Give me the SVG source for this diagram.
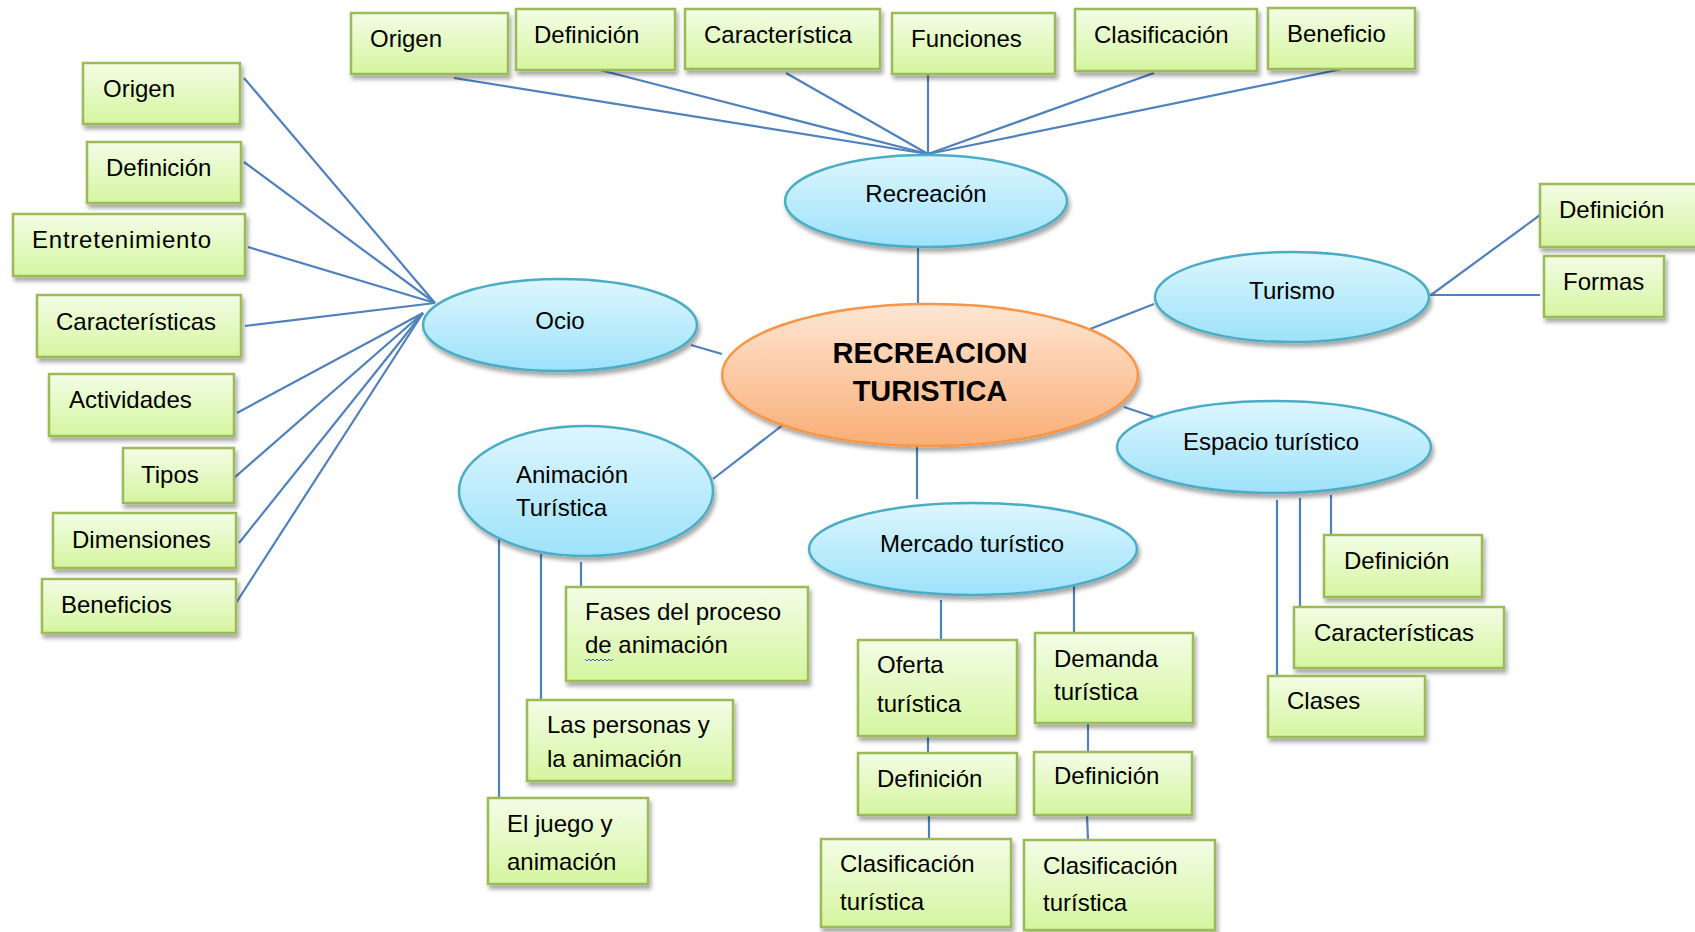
<svg xmlns="http://www.w3.org/2000/svg" width="1695" height="932" viewBox="0 0 1695 932">
<defs>
<linearGradient id="gBox" x1="0" y1="0" x2="0" y2="1"><stop offset="0" stop-color="#f3fde6"/><stop offset="1" stop-color="#d5f59f"/></linearGradient>
<linearGradient id="gBlue" x1="0" y1="0" x2="0" y2="1"><stop offset="0" stop-color="#ddf6fe"/><stop offset="1" stop-color="#9de2fa"/></linearGradient>
<linearGradient id="gOrange" x1="0" y1="0" x2="0" y2="1"><stop offset="0" stop-color="#fee6d3"/><stop offset="1" stop-color="#f9ae76"/></linearGradient>
<filter id="sh" x="-10%" y="-10%" width="125%" height="135%"><feDropShadow dx="2" dy="4" stdDeviation="2.2" flood-color="#000" flood-opacity="0.35"/></filter>
</defs>
<style>
.box{fill:url(#gBox);stroke:#9bbb59;stroke-width:2.5;filter:url(#sh)}
.ell{fill:url(#gBlue);stroke:#4bacc6;stroke-width:2.5;filter:url(#sh)}
.ctr{fill:url(#gOrange);stroke:#f79646;stroke-width:2.5;filter:url(#sh)}
text{font-family:"Liberation Sans",Arial,sans-serif;font-size:24px;fill:#000}
.c{text-anchor:middle}
.b{font-weight:bold;font-size:29px}
#connectors line{stroke:#4f81bd;stroke-width:2.2}
</style>
<rect width="1695" height="932" fill="#fff"/>
<g id="connectors">
<line x1="454" y1="78" x2="928" y2="154"/>
<line x1="596" y1="69" x2="928" y2="154"/>
<line x1="786" y1="73" x2="928" y2="154"/>
<line x1="928" y1="74" x2="928" y2="154"/>
<line x1="1154" y1="73" x2="928" y2="154"/>
<line x1="1342" y1="69" x2="928" y2="154"/>
<line x1="918" y1="248" x2="918" y2="304"/>
<line x1="244" y1="78" x2="435" y2="303"/>
<line x1="244" y1="162" x2="435" y2="303"/>
<line x1="248" y1="247" x2="435" y2="303"/>
<line x1="245" y1="326" x2="435" y2="303"/>
<line x1="237" y1="413" x2="423" y2="313"/>
<line x1="234" y1="478" x2="423" y2="313"/>
<line x1="239" y1="543" x2="423" y2="313"/>
<line x1="236" y1="603" x2="423" y2="313"/>
<line x1="691" y1="345" x2="722" y2="354"/>
<line x1="1090" y1="329" x2="1154" y2="304"/>
<line x1="1431" y1="295" x2="1540" y2="215"/>
<line x1="1430" y1="295" x2="1540" y2="295"/>
<line x1="1124" y1="407" x2="1154" y2="417"/>
<line x1="1277" y1="500" x2="1277" y2="676"/>
<line x1="1300" y1="498" x2="1300" y2="607"/>
<line x1="1331" y1="495" x2="1331" y2="535"/>
<line x1="917" y1="443" x2="917" y2="499"/>
<line x1="941" y1="600" x2="941" y2="640"/>
<line x1="1074" y1="585" x2="1074" y2="633"/>
<line x1="928" y1="736" x2="928" y2="753"/>
<line x1="929" y1="815" x2="929" y2="839"/>
<line x1="1088" y1="723" x2="1088" y2="752"/>
<line x1="1087" y1="815" x2="1088" y2="840"/>
<line x1="713" y1="479" x2="784" y2="424"/>
<line x1="499" y1="536" x2="499" y2="798"/>
<line x1="541" y1="554" x2="541" y2="700"/>
<line x1="581" y1="562" x2="581" y2="587"/>
</g>
<g id="n-top-origen"><rect class="box" x="351" y="13" width="157" height="61"/><text x="370" y="47">Origen</text></g>
<g id="n-top-definicion"><rect class="box" x="516" y="9" width="159" height="61"/><text x="534" y="43">Definición</text></g>
<g id="n-top-caracteristica"><rect class="box" x="685" y="9" width="195" height="60"/><text x="704" y="43">Característica</text></g>
<g id="n-top-funciones"><rect class="box" x="892" y="13" width="163" height="61"/><text x="911" y="47">Funciones</text></g>
<g id="n-top-clasificacion"><rect class="box" x="1075" y="9" width="182" height="62"/><text x="1094" y="43">Clasificación</text></g>
<g id="n-top-beneficio"><rect class="box" x="1268" y="8" width="147" height="61"/><text x="1287" y="42">Beneficio</text></g>
<g id="n-recreacion"><ellipse class="ell" cx="926" cy="201" rx="141" ry="46"/><text class="c" x="926" y="202">Recreación</text></g>
<g id="n-center"><ellipse class="ctr" cx="930" cy="375" rx="208" ry="71"/><text class="c b" x="930" y="363">RECREACION</text><text class="c b" x="930" y="401">TURISTICA</text></g>
<g id="n-l-origen"><rect class="box" x="83" y="63" width="157" height="61"/><text x="103" y="97">Origen</text></g>
<g id="n-l-definicion"><rect class="box" x="87" y="142" width="154" height="61"/><text x="106" y="176">Definición</text></g>
<g id="n-l-entretenimiento"><rect class="box" x="13" y="214" width="232" height="62"/><text x="32" y="248" textLength="179" lengthAdjust="spacing">Entretenimiento</text></g>
<g id="n-l-caracteristicas"><rect class="box" x="37" y="295" width="204" height="62"/><text x="56" y="330">Características</text></g>
<g id="n-l-actividades"><rect class="box" x="49" y="374" width="185" height="62"/><text x="69" y="408">Actividades</text></g>
<g id="n-l-tipos"><rect class="box" x="123" y="448" width="111" height="55"/><text x="141" y="483">Tipos</text></g>
<g id="n-l-dimensiones"><rect class="box" x="53" y="513" width="183" height="55"/><text x="72" y="548">Dimensiones</text></g>
<g id="n-l-beneficios"><rect class="box" x="42" y="579" width="194" height="54"/><text x="61" y="613">Beneficios</text></g>
<g id="n-ocio"><ellipse class="ell" cx="560" cy="325" rx="137" ry="46"/><text class="c" x="560" y="329">Ocio</text></g>
<g id="n-turismo"><ellipse class="ell" cx="1292" cy="297" rx="137" ry="45"/><text class="c" x="1292" y="299">Turismo</text></g>
<g id="n-t-definicion"><rect class="box" x="1540" y="184" width="165" height="63"/><text x="1559" y="218">Definición</text></g>
<g id="n-t-formas"><rect class="box" x="1544" y="256" width="120" height="61"/><text x="1563" y="290">Formas</text></g>
<g id="n-espacio"><ellipse class="ell" cx="1274" cy="447" rx="157" ry="46"/><text class="c" x="1271" y="450">Espacio turístico</text></g>
<g id="n-e-definicion"><rect class="box" x="1324" y="535" width="158" height="62"/><text x="1344" y="569">Definición</text></g>
<g id="n-e-caracteristicas"><rect class="box" x="1294" y="607" width="210" height="61"/><text x="1314" y="641">Características</text></g>
<g id="n-e-clases"><rect class="box" x="1268" y="676" width="157" height="61"/><text x="1287" y="709">Clases</text></g>
<g id="n-mercado"><ellipse class="ell" cx="973" cy="549" rx="164" ry="46"/><text class="c" x="972" y="552">Mercado turístico</text></g>
<g id="n-oferta"><rect class="box" x="858" y="640" width="159" height="96"/><text x="877" y="673">Oferta</text><text x="877" y="712">turística</text></g>
<g id="n-demanda"><rect class="box" x="1035" y="633" width="158" height="90"/><text x="1054" y="667">Demanda</text><text x="1054" y="700">turística</text></g>
<g id="n-o-definicion"><rect class="box" x="858" y="753" width="159" height="62"/><text x="877" y="787">Definición</text></g>
<g id="n-d-definicion"><rect class="box" x="1034" y="752" width="158" height="63"/><text x="1054" y="784">Definición</text></g>
<g id="n-o-clasificacion"><rect class="box" x="821" y="839" width="190" height="88"/><text x="840" y="872">Clasificación</text><text x="840" y="910">turística</text></g>
<g id="n-d-clasificacion"><rect class="box" x="1024" y="840" width="191" height="90"/><text x="1043" y="874">Clasificación</text><text x="1043" y="911">turística</text></g>
<g id="n-animacion"><ellipse class="ell" cx="586" cy="491" rx="127" ry="65"/><text x="516" y="483">Animación</text><text x="516" y="516">Turística</text></g>
<g id="n-fases"><rect class="box" x="566" y="587" width="242" height="94"/><text x="585" y="620">Fases del proceso</text><text x="585" y="653">de animación</text><path d="M585 659 l2 2 l2 -2 l2 2 l2 -2 l2 2 l2 -2 l2 2 l2 -2 l2 2 l2 -2 l2 2 l2 -2 l2 2 l2 -2" fill="none" stroke="#4060d0" stroke-width="1"/></g>
<g id="n-personas"><rect class="box" x="527" y="700" width="206" height="81"/><text x="547" y="733">Las personas y</text><text x="547" y="767">la animación</text></g>
<g id="n-juego"><rect class="box" x="488" y="798" width="160" height="86"/><text x="507" y="832">El juego y</text><text x="507" y="870">animación</text></g>
</svg>
